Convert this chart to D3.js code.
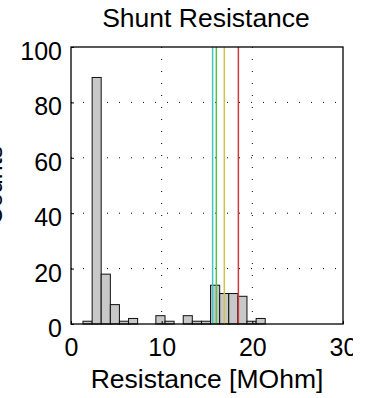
<!DOCTYPE html>
<html>
<head>
<meta charset="utf-8">
<script src="https://cdn.jsdelivr.net/npm/d3@7"></script>
<style>
  body { margin: 0; background: #fff; }
  text { font-family: "Liberation Sans", Arial, sans-serif; fill: #000; }
</style>
</head>
<body>
<div id="chart"></div>
<script>
// histogram bins (edges) and counts
const binEdges = [1.32, 2.33, 3.33, 4.34, 5.34, 6.35, 7.35, 8.36, 9.36, 10.37, 11.37,
                  12.38, 13.38, 14.39, 15.39, 16.40, 17.40, 18.41, 19.41, 20.42, 21.42];
const counts = [1, 89, 18, 7, 1, 2, 0, 0, 3, 1, 0, 3, 1, 1, 14, 11, 11, 10, 1, 2];

// vertical marker lines
const markerValues = [15.62, 16.03, 16.91, 18.46];
const markerColors = ['#3cc6c8', '#52c24a', '#c9c64a', '#cc3c3c'];

const xTicks = [0, 10, 20, 30];
const yTicks = [0, 20, 40, 60, 80, 100];

function histogram() {
  const margin = ({top: 47, right: 10, bottom: 74, left: 71});
  const visWidth = 272;
  const visHeight = 277;

  const x = d3.scaleLinear().domain([0, 30]).range([0, visWidth]);
  const y = d3.scaleLinear().domain([0, 100]).range([visHeight, 0]);

  const svg = d3.select('#chart')
    .append('svg')
      .attr('width', 353)
      .attr('height', 398);

  const g = svg.append('g')
      .attr('transform', `translate(${margin.left}, ${margin.top})`);

  // dotted grid
  g.append('g')
    .selectAll('line')
    .data(xTicks.slice(1, -1))
    .join('line')
      .attr('x1', d => x(d)).attr('x2', d => x(d))
      .attr('y1', 0).attr('y2', visHeight)
      .attr('stroke', '#000')
      .attr('stroke-width', 1)
      .attr('stroke-dasharray', '1,11');

  g.append('g')
    .selectAll('line')
    .data(yTicks.slice(1, -1))
    .join('line')
      .attr('x1', 0).attr('x2', visWidth)
      .attr('y1', d => y(d)).attr('y2', d => y(d))
      .attr('stroke', '#000')
      .attr('stroke-width', 1)
      .attr('stroke-dasharray', '1,11');

  // bars
  const bins = counts.map((c, i) => ({x0: binEdges[i], x1: binEdges[i + 1], count: c}))
    .filter(d => d.count > 0);

  g.append('g')
    .selectAll('rect')
    .data(bins)
    .join('rect')
      .attr('x', d => x(d.x0))
      .attr('y', d => y(d.count))
      .attr('width', d => x(d.x1) - x(d.x0))
      .attr('height', d => y(0) - y(d.count))
      .attr('fill', '#c8c8c8')
      .attr('stroke', '#111')
      .attr('stroke-width', 1);

  // marker lines
  g.append('g')
    .selectAll('line')
    .data(markerValues)
    .join('line')
      .attr('x1', d => x(d)).attr('x2', d => x(d))
      .attr('y1', 0).attr('y2', visHeight)
      .attr('stroke', (d, i) => markerColors[i])
      .attr('stroke-width', 1.5);

  // frame
  g.append('rect')
    .attr('width', visWidth)
    .attr('height', visHeight)
    .attr('fill', 'none')
    .attr('stroke', '#000')
    .attr('stroke-width', 1.3);

  // axes, ticks inward
  g.append('g')
    .attr('transform', `translate(0, ${visHeight})`)
    .call(d3.axisBottom(x).tickValues(xTicks).tickSizeInner(-3).tickSizeOuter(0).tickPadding(14))
    .call(g => g.select('.domain').remove())
    .call(g => g.selectAll('text').attr('font-size', 25).attr('font-family', null));

  g.append('g')
    .call(d3.axisLeft(y).tickValues(yTicks).tickSizeInner(-3).tickSizeOuter(0).tickPadding(9))
    .call(g => g.select('.domain').remove())
    .call(g => g.selectAll('text').attr('font-size', 25).attr('font-family', null).attr('dy', '0.5em'));

  // labels
  svg.append('text')
    .attr('x', margin.left + visWidth / 2 - 1)
    .attr('y', 27)
    .attr('text-anchor', 'middle')
    .attr('font-size', 26.5)
    .text('Shunt Resistance');

  svg.append('text')
    .attr('x', margin.left + visWidth / 2)
    .attr('y', 388)
    .attr('text-anchor', 'middle')
    .attr('font-size', 26.5)
    .text('Resistance [MOhm]');

  svg.append('text')
    .attr('transform', `translate(1.5, ${margin.top + visHeight / 2}) rotate(-90)`)
    .attr('text-anchor', 'middle')
    .attr('font-size', 25)
    .text('Counts');
}

window.onload = histogram;
</script>
</body>
</html>
